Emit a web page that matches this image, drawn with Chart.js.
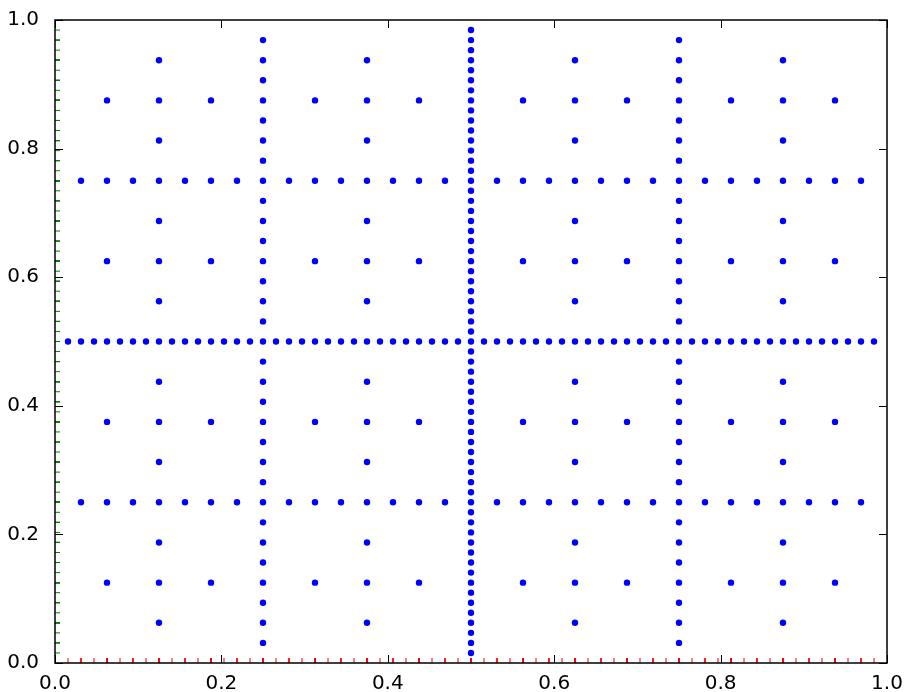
<!DOCTYPE html>
<html>
<head>
<meta charset="utf-8">
<script src="https://cdn.jsdelivr.net/npm/chart.js@4.4.1/dist/chart.umd.min.js"></script>
<style>
    html, body { margin: 0; padding: 0; background: #ffffff; }
    #wrap { width: 907px; height: 692px; }
</style>
</head>
<body>
<div id="wrap"><canvas id="myScatter"></canvas></div>
<script>
// grid positions in 1/64 units
const xLevel6 = [1, 2, 3, 4, 5, 6, 7, 8, 9, 10, 11, 12, 13, 14, 15, 16, 17, 18, 19, 20, 21, 22, 23, 24, 25, 26, 27, 28, 29, 30, 31, 32,
    33, 34, 35, 36, 37, 38, 39, 40, 41, 42, 43, 44, 45, 46, 47, 48, 49, 50, 51, 52, 53, 54, 55, 56, 57, 58, 59, 60, 61, 62, 63];
const xLevel5 = [2, 4, 6, 8, 10, 12, 14, 16, 18, 20, 22, 24, 26, 28, 30, 32, 34, 36, 38, 40, 42, 44, 46, 48, 50, 52, 54, 56, 58, 60, 62];
const xLevel4 = [4, 8, 12, 16, 20, 24, 28, 32, 36, 40, 44, 48, 52, 56, 60];
const xLevel3 = [8, 16, 24, 32, 40, 48, 56];
const xLevel2 = [16, 32, 48];
const xLevel1 = [32];

const yRow1 = [32];
const yRow2 = [16, 48];
const yRow3 = [8, 24, 40, 56];
const yRow4 = [4, 12, 20, 28, 36, 44, 52, 60];
const yRow5 = [2, 6, 10, 14, 18, 22, 26, 30, 34, 38, 42, 46, 50, 54, 58, 62];
const yRow6 = [1, 3, 5, 7, 9, 11, 13, 15, 17, 19, 21, 23, 25, 27, 29, 31, 33, 35, 37, 39, 41, 43, 45, 47, 49, 51, 53, 55, 57, 59, 61, 63];

const tickValues = [0, 0.2, 0.4, 0.6, 0.8, 1.0];

// each row set pairs with one column set
const pairs = [
    [xLevel6, yRow1],
    [xLevel5, yRow2],
    [xLevel4, yRow3],
    [xLevel3, yRow4],
    [xLevel2, yRow5],
    [xLevel1, yRow6]
];

const points = [];
pairs.forEach(([xs, ys]) => {
    ys.forEach(y => {
        xs.forEach(x => {
            points.push({ x: x / 64, y: y / 64 });
        });
    });
});

// rug marks along the bottom and left edges
const rugX = points.map(p => ({ x: p.x, y: 0 }));
const rugY = points.map(p => ({ x: 0, y: p.y }));

// frame + inward major ticks like the old matplotlib look
const framePlugin = {
    id: 'frame',
    afterDatasetsDraw(chart) {
        const { ctx, chartArea: a, scales } = chart;
        const len = 8;
        ctx.save();
        ctx.strokeStyle = '#000000';
        ctx.lineWidth = 1;
        ctx.beginPath();
        tickValues.forEach(v => {
            const px = Math.round(scales.x.getPixelForValue(v)) + 0.5;
            ctx.moveTo(px, a.bottom);
            ctx.lineTo(px, a.bottom - len);
            ctx.moveTo(px, a.top);
            ctx.lineTo(px, a.top + len);
            const py = Math.round(scales.y.getPixelForValue(v)) + 0.5;
            ctx.moveTo(a.left, py);
            ctx.lineTo(a.left + len, py);
            ctx.moveTo(a.right, py);
            ctx.lineTo(a.right - len, py);
        });
        ctx.stroke();
        ctx.lineWidth = 1.5;
        ctx.strokeRect(a.left, a.top, a.right - a.left, a.bottom - a.top);
        ctx.restore();
    }
};

const ctx = document.getElementById('myScatter').getContext('2d');

new Chart(ctx, {
    type: 'scatter',
    data: {
        datasets: [
            {
                label: 'points',
                data: points,
                backgroundColor: '#0000ff',
                borderColor: '#0000ff',
                borderWidth: 0,
                pointRadius: 3.2,
                pointHoverRadius: 3.2
            },
            {
                label: 'rug x',
                data: rugX,
                pointStyle: 'line',
                rotation: 90,
                pointRadius: 5,
                borderColor: '#ff0000',
                borderWidth: 1,
                clip: 0
            },
            {
                label: 'rug y',
                data: rugY,
                pointStyle: 'line',
                pointRadius: 5,
                borderColor: '#008000',
                borderWidth: 1,
                clip: 0
            }
        ]
    },
    options: {
        responsive: true,
        maintainAspectRatio: false,
        animation: false,
        layout: {
            padding: { top: 17, right: 20, left: 0, bottom: 0 }
        },
        plugins: {
            legend: { display: false },
            tooltip: { enabled: false }
        },
        scales: {
            x: {
                type: 'linear',
                min: 0,
                max: 1,
                afterBuildTicks: s => { s.ticks = tickValues.map(v => ({ value: v })); },
                afterFit: s => { s.height = 29; },
                grid: { display: false },
                border: { display: false },
                ticks: {
                    color: '#000000',
                    padding: 1,
                    maxRotation: 0,
                    font: { family: 'DejaVu Sans', size: 20 },
                    callback: v => v.toFixed(1)
                }
            },
            y: {
                type: 'linear',
                min: 0,
                max: 1,
                afterBuildTicks: s => { s.ticks = tickValues.map(v => ({ value: v })); },
                afterFit: s => { s.width = 55; },
                grid: { display: false },
                border: { display: false },
                ticks: {
                    color: '#000000',
                    padding: 8,
                    font: { family: 'DejaVu Sans', size: 20 },
                    callback: v => v.toFixed(1)
                }
            }
        }
    },
    plugins: [framePlugin]
});
</script>
</body>
</html>
